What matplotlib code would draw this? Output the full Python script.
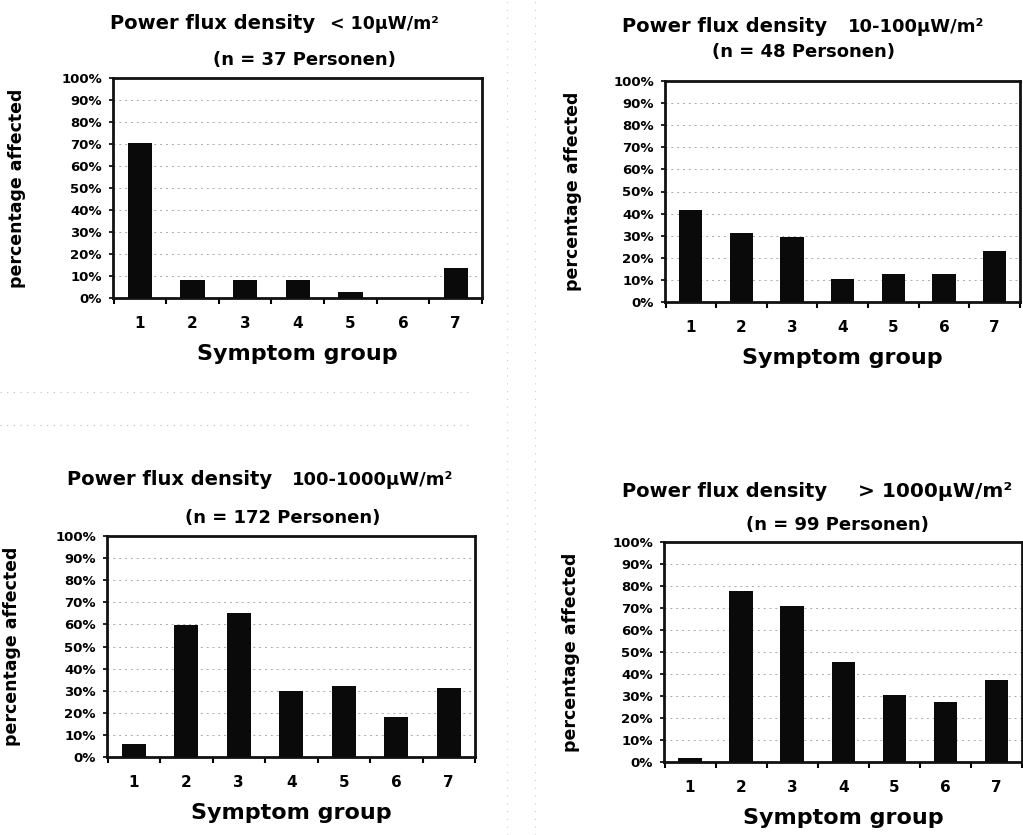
import matplotlib.pyplot as plt
import numpy as np
from matplotlib.lines import Line2D

# symptom groups 1..7, percentage affected per exposure class
groups = [1, 2, 3, 4, 5, 6, 7]
pct_lt10 = [70.3, 8.1, 8.1, 8.1, 2.7, 0.0, 13.5]
pct_10_100 = [41.7, 31.3, 29.2, 10.4, 12.5, 12.5, 22.9]
pct_100_1000 = [5.8, 59.9, 65.1, 29.7, 32.0, 18.0, 31.4]
pct_gt1000 = [2.0, 77.8, 70.7, 45.5, 30.3, 27.3, 37.4]

ranges = ['< 10µW/m²', '10-100µW/m²', '100-1000µW/m²', '> 1000µW/m²']
counts = [37, 48, 172, 99]
ytick_labels = ['%d%%' % v for v in range(0, 101, 10)]

W, H = 1023, 835
fig = plt.figure(figsize=(W / 100, H / 100), dpi=100)
fig.patch.set_facecolor('white')

def px(x, y):
    return x / W, 1 - y / H

# axes boxes in pixels: left, top, right, bottom
boxes = [(113, 78, 482, 298), (665, 81, 1020, 302),
         (107, 536, 475, 757), (664, 542, 1022, 762)]
# title placement (pixels): main text x, range x, baseline1, line2 centre, baseline2, range size
titles = [(110, 330, 29, 304, 65, 12.5), (622, 848, 32, 804, 57, 13),
          (67, 292, 485, 283, 523, 13), (622, 858, 497, 837, 530, 14.5)]
data = [pct_lt10, pct_10_100, pct_100_1000, pct_gt1000]

for i, vals in enumerate(data):
    l, t, r, b = boxes[i]
    x0, y1 = px(l, t)
    x1, y0 = px(r, b)
    ax = fig.add_axes([x0, y0, x1 - x0, y1 - y0])
    ax.bar(groups, vals, width=0.46, color='#0a0a0a', zorder=3)
    ax.set_xlim(0.49, 7.47)
    ax.set_ylim(0, 100)
    ax.set_yticks(range(0, 101, 10))
    ax.set_yticklabels(ytick_labels, fontsize=9.5, fontweight='bold')
    ax.set_xticks(groups)
    ax.set_xticklabels([str(g) for g in groups], fontsize=11, fontweight='bold')
    ax.set_xticks(np.arange(0.5, 8, 1.0), minor=True)
    ax.tick_params(axis='x', which='major', length=0, pad=13)
    ax.tick_params(axis='x', which='minor', length=4, width=1.5, direction='out')
    ax.tick_params(axis='y', length=3, width=1.2, pad=5)
    for s in ax.spines.values():
        s.set_linewidth(2)
        s.set_color('#111111')
    ax.yaxis.grid(True, color='#aaaaaa', linestyle=(0, (2, 4)), linewidth=0.7, zorder=0)
    ax.set_axisbelow(True)
    ax.set_ylabel('percentage affected', fontsize=12.5, fontweight='bold')
    ax.yaxis.set_label_coords(-0.235, 0.5)
    ax.set_xlabel('Symptom group', fontsize=16, fontweight='bold', labelpad=9)

    mx, rx, bl1, cx2, bl2, rs = titles[i]
    fig.text(*px(mx, bl1), 'Power flux density', fontsize=14, fontweight='bold',
             ha='left', va='baseline')
    fig.text(*px(rx, bl1), ranges[i], fontsize=rs, fontweight='bold',
             ha='left', va='baseline')
    fig.text(*px(cx2, bl2), '(n = %d Personen)' % counts[i], fontsize=13,
             fontweight='bold', ha='center', va='baseline')

# faint scan separators
for y in (392, 425):
    fig.add_artist(Line2D([0, 470 / W], [1 - y / H] * 2, color='#bbbbbb',
                          linestyle=(0, (1, 5)), linewidth=0.8))
for x in (507, 535):
    fig.add_artist(Line2D([x / W] * 2, [0, 1], color='#cccccc',
                          linestyle=(0, (1, 6)), linewidth=0.8))

fig.savefig('out.png', dpi=100)
